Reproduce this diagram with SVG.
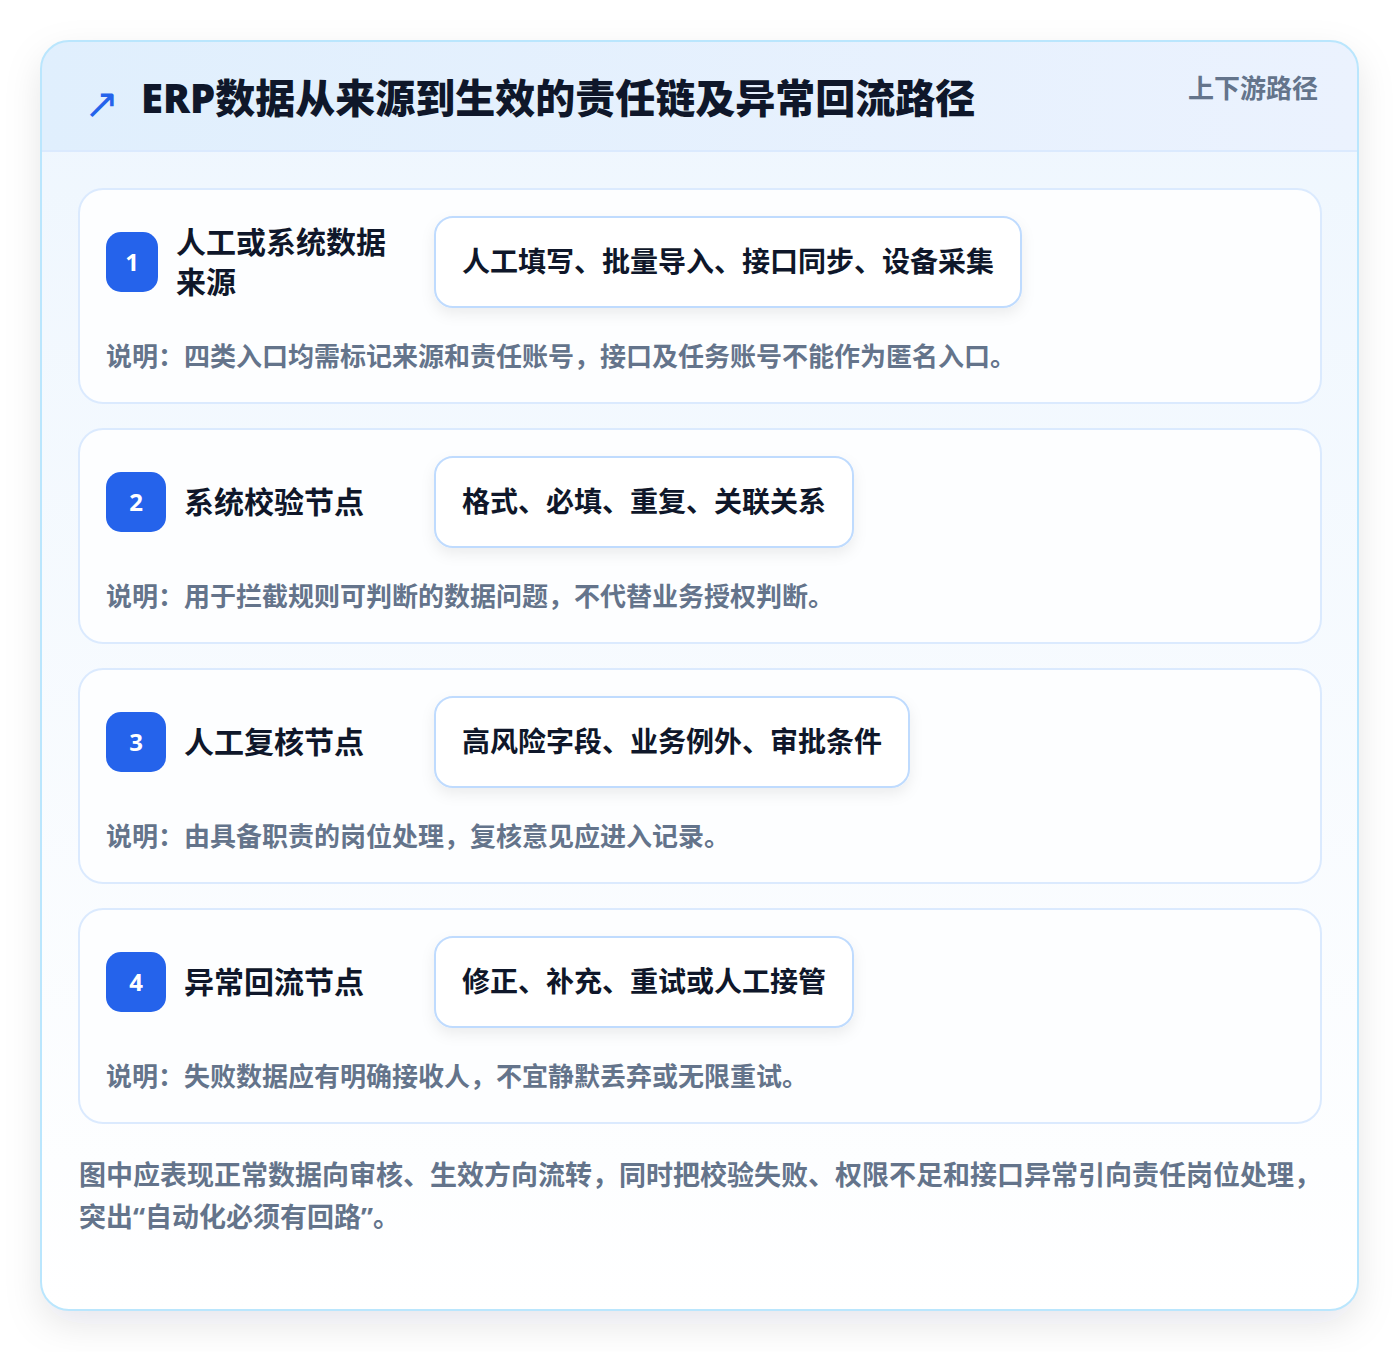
<svg xmlns="http://www.w3.org/2000/svg" width="1400" height="1352" viewBox="0 0 1400 1352">
  <defs>
    <linearGradient id="bodyGrad" x1="0" y1="0" x2="0" y2="1">
      <stop offset="0" stop-color="#eef6fe"/>
      <stop offset="1" stop-color="#ffffff"/>
    </linearGradient>
    <linearGradient id="headGrad" x1="0" y1="0" x2="1" y2="0">
      <stop offset="0" stop-color="#e0effd"/>
      <stop offset="1" stop-color="#ebf2fe"/>
    </linearGradient>
    <filter id="outerShadow" x="-10%" y="-10%" width="120%" height="120%">
      <feDropShadow dx="0" dy="14" stdDeviation="18" flood-color="#0f172a" flood-opacity="0.10"/>
    </filter>
    <filter id="tagShadow" x="-10%" y="-30%" width="120%" height="170%">
      <feDropShadow dx="0" dy="6" stdDeviation="7" flood-color="#0f172a" flood-opacity="0.07"/>
    </filter>
    <clipPath id="outerClip">
      <rect x="41" y="41" width="1317" height="1269" rx="28"/>
    </clipPath>
  </defs>
  <style>
    text { font-family: "Noto Sans", "Noto Sans CJK SC", sans-serif; font-weight: 700; }
    .card { fill: #fdfeff; stroke: #dbeafe; stroke-width: 2; }
    .badge { fill: #2563eb; }
    .badgeNum { fill: #ffffff; font-size: 24px; text-anchor: middle; }
    .title { fill: #0f172a; font-size: 30px; }
    .tag { fill: #ffffff; stroke: #bfdbfe; stroke-width: 2; }
    .tagText { fill: #0f172a; font-size: 28px; }
    .desc { fill: #64748b; font-size: 26px; }
    .foot { fill: #64748b; font-size: 27px; }
  </style>
  <rect width="1400" height="1352" fill="#ffffff"/>

  <g id="frame">
    <rect x="41" y="41" width="1317" height="1269" rx="28" fill="url(#bodyGrad)" filter="url(#outerShadow)"/>
    <g clip-path="url(#outerClip)">
      <rect x="41" y="41" width="1317" height="110" fill="url(#headGrad)"/>
      <line x1="41" y1="151" x2="1358" y2="151" stroke="#dbeafe" stroke-width="2"/>
    </g>
    <rect x="41" y="41" width="1317" height="1269" rx="28" fill="none" stroke="#bae6fd" stroke-width="2"/>
  </g>

  <g id="header">
    <text x="84" y="118" style="fill:#2563eb;font-size:42px;font-family:'DejaVu Sans',sans-serif;font-weight:400">↗</text>
    <text x="141" y="113" style="fill:#0f172a;font-size:40px;font-weight:900">ERP数据从来源到生效的责任链及异常回流路径</text>
    <text x="1318" y="98" text-anchor="end" style="fill:#64748b;font-size:26px">上下游路径</text>
  </g>

  <g id="node1">
    <rect class="card" x="79" y="189" width="1242" height="214" rx="24"/>
    <rect class="badge" x="106" y="232" width="52" height="60" rx="15"/>
    <text class="badgeNum" x="132" y="271">1</text>
    <text class="title" x="176" y="253">人工或系统数据</text>
    <text class="title" x="176" y="293">来源</text>
    <rect class="tag" x="435" y="217" width="586" height="90" rx="18" filter="url(#tagShadow)"/>
    <text class="tagText" x="462" y="272">人工填写、批量导入、接口同步、设备采集</text>
    <text class="desc" x="106" y="366">说明：四类入口均需标记来源和责任账号，接口及任务账号不能作为匿名入口。</text>
  </g>

  <g id="node2">
    <rect class="card" x="79" y="429" width="1242" height="214" rx="24"/>
    <rect class="badge" x="106" y="472" width="60" height="60" rx="15"/>
    <text class="badgeNum" x="136" y="511">2</text>
    <text class="title" x="184" y="513">系统校验节点</text>
    <rect class="tag" x="435" y="457" width="418" height="90" rx="18" filter="url(#tagShadow)"/>
    <text class="tagText" x="462" y="512">格式、必填、重复、关联关系</text>
    <text class="desc" x="106" y="606">说明：用于拦截规则可判断的数据问题，不代替业务授权判断。</text>
  </g>

  <g id="node3">
    <rect class="card" x="79" y="669" width="1242" height="214" rx="24"/>
    <rect class="badge" x="106" y="712" width="60" height="60" rx="15"/>
    <text class="badgeNum" x="136" y="751">3</text>
    <text class="title" x="184" y="753">人工复核节点</text>
    <rect class="tag" x="435" y="697" width="474" height="90" rx="18" filter="url(#tagShadow)"/>
    <text class="tagText" x="462" y="752">高风险字段、业务例外、审批条件</text>
    <text class="desc" x="106" y="846">说明：由具备职责的岗位处理，复核意见应进入记录。</text>
  </g>

  <g id="node4">
    <rect class="card" x="79" y="909" width="1242" height="214" rx="24"/>
    <rect class="badge" x="106" y="952" width="60" height="60" rx="15"/>
    <text class="badgeNum" x="136" y="991">4</text>
    <text class="title" x="184" y="993">异常回流节点</text>
    <rect class="tag" x="435" y="937" width="418" height="90" rx="18" filter="url(#tagShadow)"/>
    <text class="tagText" x="462" y="992">修正、补充、重试或人工接管</text>
    <text class="desc" x="106" y="1086">说明：失败数据应有明确接收人，不宜静默丢弃或无限重试。</text>
  </g>

  <g id="connectors"></g>

  <g id="footer">
    <text class="foot" x="79" y="1185">图中应表现正常数据向审核、生效方向流转，同时把校验失败、权限不足和接口异常引向责任岗位处理，</text>
    <text class="foot" x="79" y="1227">突出“自动化必须有回路”。</text>
  </g>
</svg>
